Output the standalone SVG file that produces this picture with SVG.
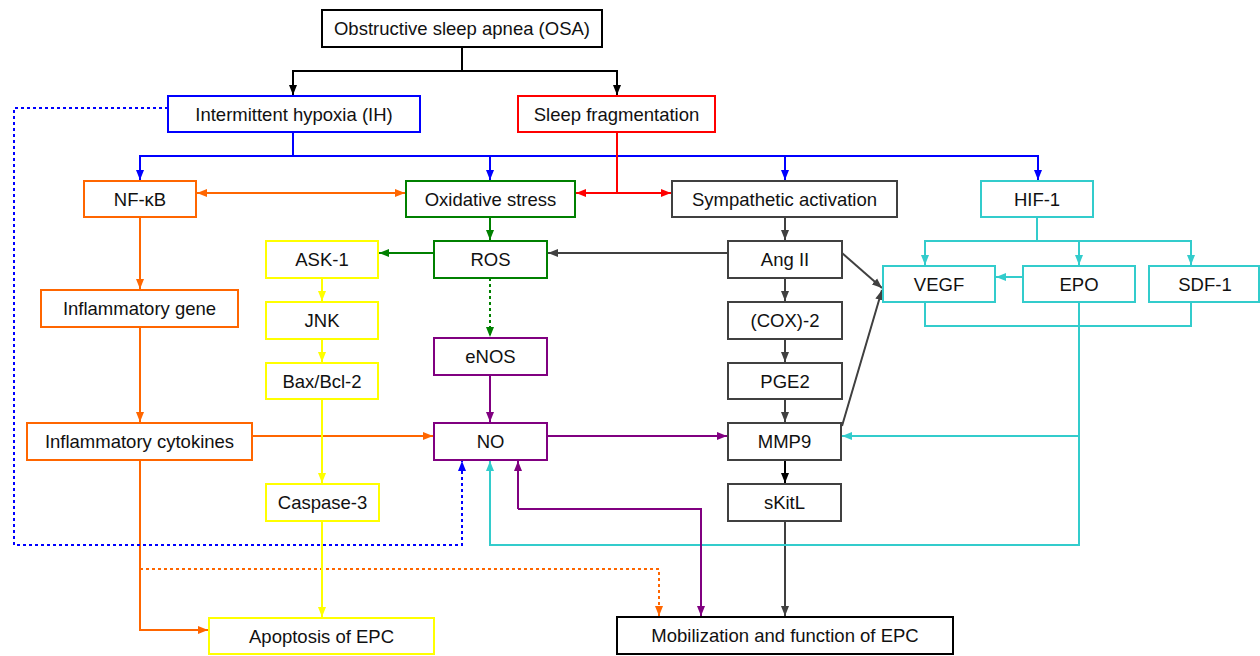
<svg xmlns="http://www.w3.org/2000/svg" width="1260" height="656" viewBox="0 0 1260 656">
<style>
.n rect{fill:#fff;stroke-width:2}
.n text{font-family:"Liberation Sans",Arial,sans-serif;font-size:18.5px;fill:#111;text-anchor:middle}
.k rect{stroke:#000}.b rect{stroke:#0000FF}.r rect{stroke:#FF0000}.o rect{stroke:#FF6600}.g rect{stroke:#008000}
.d rect{stroke:#404040}.c rect{stroke:#33CCCC}.y rect{stroke:#FFFF00}.p rect{stroke:#800080}
#edges path{fill:none;stroke-width:2}
.ek{stroke:#000}.eb{stroke:#0000FF}.er{stroke:#FF0000}.eo{stroke:#FF6600}.eg{stroke:#008000}
.ed{stroke:#404040}.ec{stroke:#33CCCC}.ey{stroke:#FFFF00}.ep{stroke:#800080}
.dot{stroke-dasharray:3 3}
</style>
<defs>
<marker id="mk" markerUnits="userSpaceOnUse" markerWidth="10" markerHeight="10" refX="10" refY="5" orient="auto-start-reverse"><path d="M0,1 L10,5 L0,9z" fill="#000"/></marker>
<marker id="mb" markerUnits="userSpaceOnUse" markerWidth="10" markerHeight="10" refX="10" refY="5" orient="auto-start-reverse"><path d="M0,1 L10,5 L0,9z" fill="#0000FF"/></marker>
<marker id="mr" markerUnits="userSpaceOnUse" markerWidth="10" markerHeight="10" refX="10" refY="5" orient="auto-start-reverse"><path d="M0,1 L10,5 L0,9z" fill="#FF0000"/></marker>
<marker id="mo" markerUnits="userSpaceOnUse" markerWidth="10" markerHeight="10" refX="10" refY="5" orient="auto-start-reverse"><path d="M0,1 L10,5 L0,9z" fill="#FF6600"/></marker>
<marker id="mg" markerUnits="userSpaceOnUse" markerWidth="10" markerHeight="10" refX="10" refY="5" orient="auto-start-reverse"><path d="M0,1 L10,5 L0,9z" fill="#008000"/></marker>
<marker id="md" markerUnits="userSpaceOnUse" markerWidth="10" markerHeight="10" refX="10" refY="5" orient="auto-start-reverse"><path d="M0,1 L10,5 L0,9z" fill="#404040"/></marker>
<marker id="mc" markerUnits="userSpaceOnUse" markerWidth="10" markerHeight="10" refX="10" refY="5" orient="auto-start-reverse"><path d="M0,1 L10,5 L0,9z" fill="#33CCCC"/></marker>
<marker id="my" markerUnits="userSpaceOnUse" markerWidth="10" markerHeight="10" refX="10" refY="5" orient="auto-start-reverse"><path d="M0,1 L10,5 L0,9z" fill="#FFFF00"/></marker>
<marker id="mp" markerUnits="userSpaceOnUse" markerWidth="10" markerHeight="10" refX="10" refY="5" orient="auto-start-reverse"><path d="M0,1 L10,5 L0,9z" fill="#800080"/></marker>
</defs>
<rect width="1260" height="656" fill="#fff"/>
<g id="edges">
<path class="ek" d="M462,47 V71 H293 V95" marker-end="url(#mk)"/>
<path class="ek" d="M462,71 H617 V95" marker-end="url(#mk)"/>
<path class="eb" d="M293,132 V156 H140 V180" marker-end="url(#mb)"/>
<path class="eb" d="M293,156 H1038 V180" marker-end="url(#mb)"/>
<path class="eb" d="M490,156 V180" marker-end="url(#mb)"/>
<path class="eb" d="M785,156 V180" marker-end="url(#mb)"/>
<path class="er" d="M617,132 V193 H576" marker-end="url(#mr)"/>
<path class="er" d="M617,193 H671" marker-end="url(#mr)"/>
<path class="eo" d="M197,193 H405" marker-start="url(#mo)" marker-end="url(#mo)"/>
<path class="eg" d="M490,217 V240" marker-end="url(#mg)"/>
<path class="eg" d="M434,253 H379" marker-end="url(#mg)"/>
<path class="eg dot" d="M490,278 V337" marker-end="url(#mg)"/>
<path class="ed" d="M785,217 V240" marker-end="url(#md)"/>
<path class="ed" d="M728,253 H548" marker-end="url(#md)"/>
<path class="ed" d="M785,278 V301" marker-end="url(#md)"/>
<path class="ed" d="M785,339 V362" marker-end="url(#md)"/>
<path class="ed" d="M785,399 V422" marker-end="url(#md)"/>
<path class="ed" d="M842,253 L882,288" marker-end="url(#md)"/>
<path class="ed" d="M842,426 L882,290" marker-end="url(#md)"/>
<path class="ek" d="M785,460 V483" marker-end="url(#mk)"/>
<path class="ed" d="M785,521 V616" marker-end="url(#md)"/>
<path class="ec" d="M1037,217 V241 H925 V265" marker-end="url(#mc)"/>
<path class="ec" d="M1079,241 V265" marker-end="url(#mc)"/>
<path class="ec" d="M1037,241 H1191 V265" marker-end="url(#mc)"/>
<path class="ec" d="M1023,277 H996" marker-end="url(#mc)"/>
<path class="ec" d="M925,302 V326 H1191 V302"/>
<path class="ec" d="M1079,302 V545 H490 V461" marker-end="url(#mc)"/>
<path class="ec" d="M1079,436 H842" marker-end="url(#mc)"/>
<path class="eo" d="M140,217 V289" marker-end="url(#mo)"/>
<path class="eo" d="M140,327 V422" marker-end="url(#mo)"/>
<path class="eo" d="M252,436 H433" marker-end="url(#mo)"/>
<path class="eo" d="M140,460 V630 H208" marker-end="url(#mo)"/>
<path class="eo dot" d="M140,569 H659 V616" marker-end="url(#mo)"/>
<path class="ey" d="M322,278 V301" marker-end="url(#my)"/>
<path class="ey" d="M322,339 V362" marker-end="url(#my)"/>
<path class="ey" d="M322,399 V483" marker-end="url(#my)"/>
<path class="ey" d="M322,521 V617" marker-end="url(#my)"/>
<path class="ep" d="M490,375 V422" marker-end="url(#mp)"/>
<path class="ep" d="M547,436 H727" marker-end="url(#mp)"/>
<path class="ep" d="M518,509 H701 V616" marker-end="url(#mp)"/>
<path class="ep" d="M518,509 V461" marker-end="url(#mp)"/>
<path class="eb dot" d="M168,108 H14 V545 H462 V461" marker-end="url(#mb)"/>
</g>
<g id="osa" class="n k"><rect x="322" y="10" width="280" height="37"/><text x="462" y="35">Obstructive sleep apnea (OSA)</text></g>
<g id="ih" class="n b"><rect x="168" y="96" width="252" height="36"/><text x="294" y="120.5">Intermittent hypoxia (IH)</text></g>
<g id="sf" class="n r"><rect x="518" y="96" width="197" height="36"/><text x="616.5" y="120.5">Sleep fragmentation</text></g>
<g id="nfkb" class="n o"><rect x="84" y="181" width="112" height="36"/><text x="140" y="205.5">NF-κB</text></g>
<g id="ox" class="n g"><rect x="406" y="181" width="169" height="36"/><text x="490.5" y="205.5">Oxidative stress</text></g>
<g id="sa" class="n d"><rect x="672" y="181" width="225" height="36"/><text x="784.5" y="205.5">Sympathetic activation</text></g>
<g id="hif" class="n c"><rect x="981" y="181" width="112" height="36"/><text x="1037" y="205.5">HIF-1</text></g>
<g id="ask" class="n y"><rect x="266" y="241" width="112" height="37"/><text x="322" y="266">ASK-1</text></g>
<g id="ros" class="n g"><rect x="434" y="241" width="113" height="37"/><text x="490.5" y="266">ROS</text></g>
<g id="ang" class="n d"><rect x="728" y="241" width="114" height="37"/><text x="785" y="266">Ang II</text></g>
<g id="vegf" class="n c"><rect x="883" y="266" width="112" height="36"/><text x="939" y="290.5">VEGF</text></g>
<g id="epo" class="n c"><rect x="1023" y="266" width="112" height="36"/><text x="1079" y="290.5">EPO</text></g>
<g id="sdf" class="n c"><rect x="1149" y="266" width="110" height="36"/><text x="1205" y="290.5">SDF-1</text></g>
<g id="ig" class="n o"><rect x="41" y="290" width="197" height="37"/><text x="139.5" y="315">Inflammatory gene</text></g>
<g id="jnk" class="n y"><rect x="266" y="302" width="112" height="37"/><text x="322" y="327">JNK</text></g>
<g id="cox" class="n d"><rect x="728" y="302" width="114" height="37"/><text x="785" y="327">(COX)-2</text></g>
<g id="enos" class="n p"><rect x="434" y="338" width="113" height="37"/><text x="490.5" y="363">eNOS</text></g>
<g id="bax" class="n y"><rect x="266" y="363" width="112" height="36"/><text x="322" y="387.5">Bax/Bcl-2</text></g>
<g id="pge" class="n d"><rect x="728" y="363" width="114" height="36"/><text x="785" y="387.5">PGE2</text></g>
<g id="ic" class="n o"><rect x="27" y="423" width="225" height="37"/><text x="139.5" y="448">Inflammatory cytokines</text></g>
<g id="no" class="n p"><rect x="434" y="423" width="113" height="37"/><text x="490.5" y="448">NO</text></g>
<g id="mmp" class="n d"><rect x="728" y="423" width="113" height="37"/><text x="784.5" y="448">MMP9</text></g>
<g id="casp" class="n y"><rect x="266" y="484" width="113" height="37"/><text x="322.5" y="509">Caspase-3</text></g>
<g id="skit" class="n d"><rect x="728" y="484" width="113" height="37"/><text x="784.5" y="509">sKitL</text></g>
<g id="apo" class="n y"><rect x="209" y="618" width="225" height="36"/><text x="321.5" y="642.5">Apoptosis of EPC</text></g>
<g id="mob" class="n k"><rect x="617" y="617" width="336" height="37"/><text x="785" y="642">Mobilization and function of EPC</text></g>
</svg>
